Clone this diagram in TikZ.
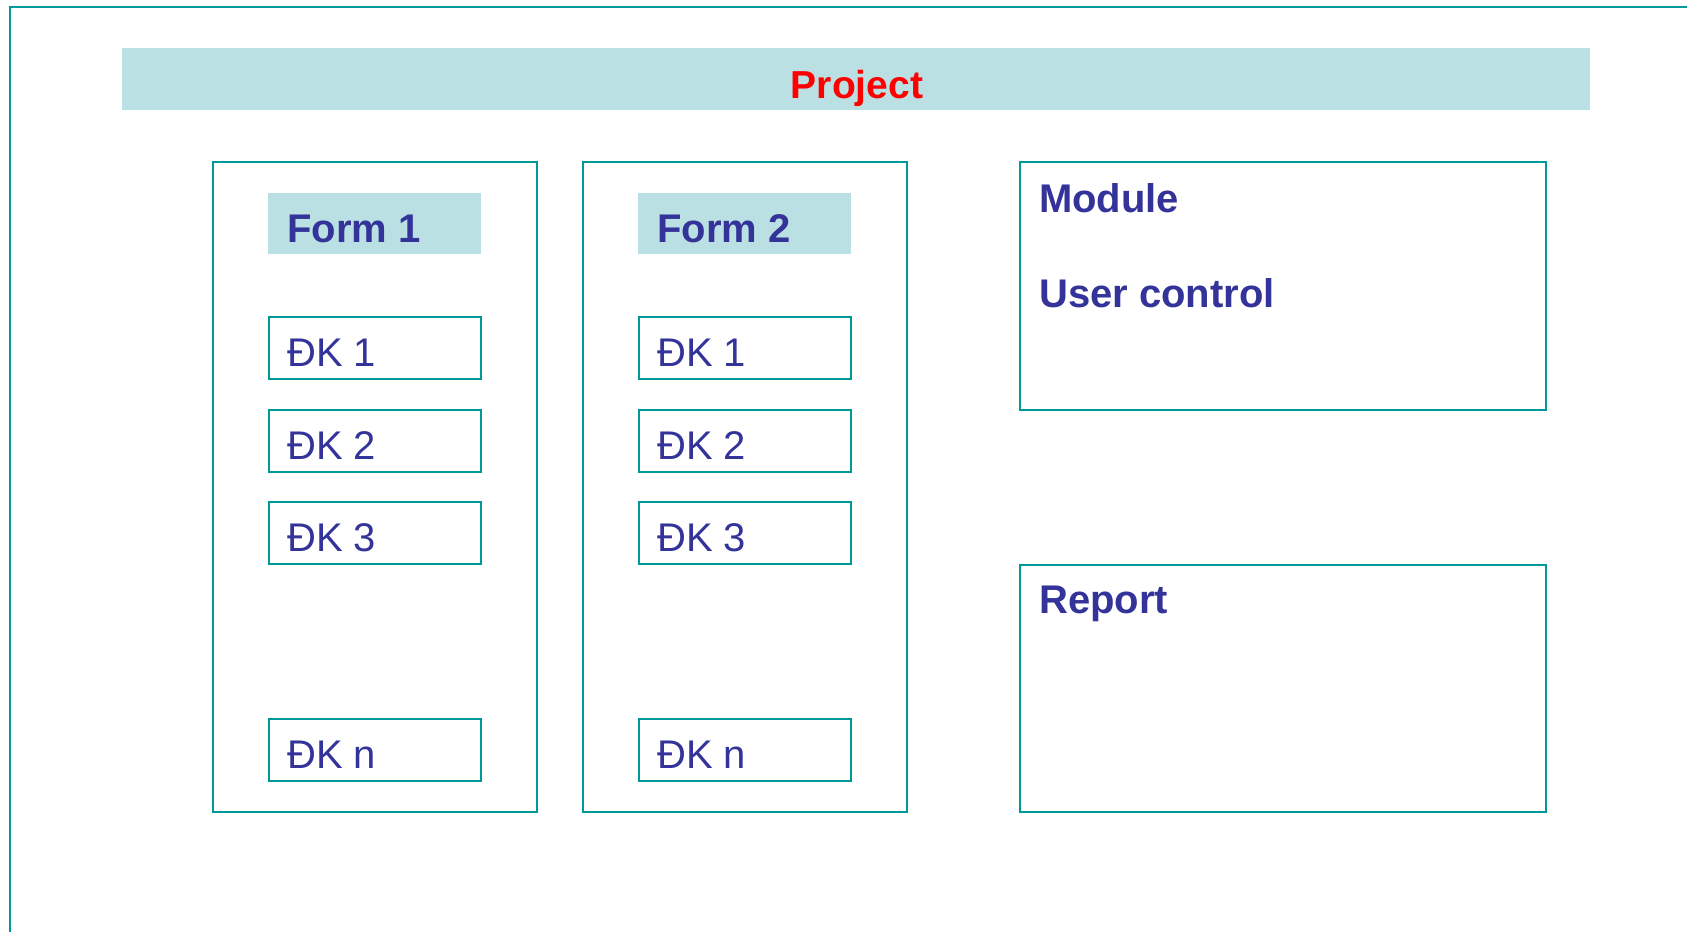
\documentclass[tikz,border=0pt]{standalone}
\usepackage{fontspec}
\setmainfont{Liberation Sans}
\definecolor{tealline}{HTML}{009999}
\definecolor{pale}{HTML}{BBE0E3}
\definecolor{ink}{HTML}{333399}
\definecolor{projred}{HTML}{FF0000}
\begin{document}
\begin{tikzpicture}[x=1pt,y=-1pt,
  frame/.style={draw=tealline, line width=2.2pt},
  bigbox/.style={frame, inner sep=0pt, anchor=north west},
  boxn/.style={frame, fill=white, minimum width=212pt, minimum height=62pt, anchor=north west, inner sep=0pt},
  hdr/.style={fill=pale, minimum width=213pt, minimum height=61pt, anchor=north west, inner sep=0pt},
  bigtxt/.style={font=\fontsize{40}{48}\selectfont\bfseries, text=ink, anchor=base west, inner sep=0pt},
  dktxt/.style={font=\fontsize{40}{48}\selectfont, text=ink, anchor=base west, inner sep=0pt},
]
\useasboundingbox (0,0) rectangle (1687,932);
% outer frame (open to the right and bottom)
\coordinate (fbl) at (10,932);
\coordinate (ftl) at (10,7);
\coordinate (ftr) at (1687,7);
\draw[frame] (fbl) -- (ftl) -- (ftr);
% project bar
\node[fill=pale, minimum width=1468pt, minimum height=62pt, inner sep=0pt, anchor=north west] (proj) at (122,48) {};
\node[font=\fontsize{39}{47}\selectfont\bfseries, text=projred, anchor=base, inner sep=0pt] (projt) at (857,98) {Project};
% form columns
\foreach \f/\x/\bx in {1/268/212, 2/638/582} {
  \node[bigbox, minimum width=324pt, minimum height=650pt] (form\f) at (\bx,161) {};
  \node[hdr] (hdr\f) at (\x,193) {};
  \node[bigtxt] (hdrt\f) at ([shift={(19,49)}]hdr\f.north west) {Form \f};
  \foreach \i/\y in {1/316, 2/409, 3/501, n/718} {
    \node[boxn] (f\f-dk\i) at (\x,\y) {};
    \node[dktxt] (f\f-dkt\i) at ([shift={(19,50)}]f\f-dk\i.north west) {ĐK \i};
  }
}
% module / user control
\node[bigbox, minimum width=526pt, minimum height=248pt] (module) at (1019,161) {};
\node[bigtxt] (modt) at ([shift={(20,51)}]module.north west) {Module};
\node[bigtxt] (uct) at ([shift={(20,146)}]module.north west) {User control};
% report
\node[bigbox, minimum width=526pt, minimum height=247pt] (report) at (1019,564) {};
\node[bigtxt] (rept) at ([shift={(20,49)}]report.north west) {Report};
\end{tikzpicture}
\end{document}
